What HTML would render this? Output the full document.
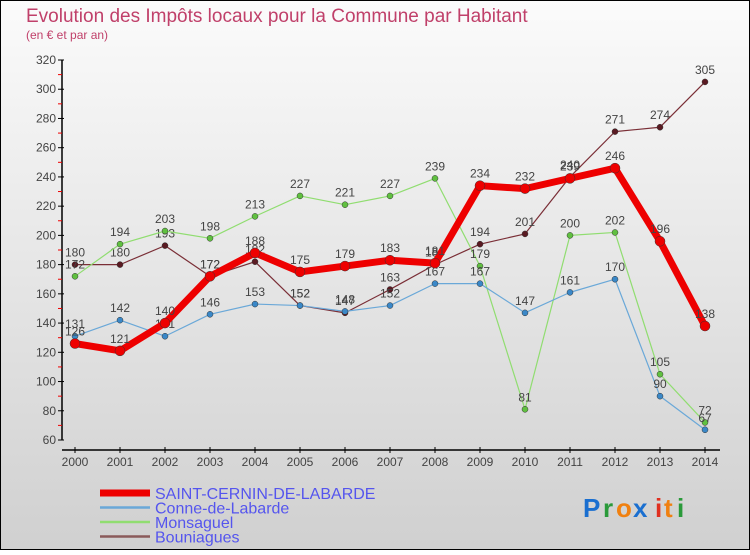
<!DOCTYPE html>
<html><head><meta charset="utf-8"><style>
body{margin:0;width:750px;height:550px;overflow:hidden;font-family:"Liberation Sans",sans-serif}
</style></head><body>
<svg id="c" width="750" height="550" xmlns="http://www.w3.org/2000/svg">
<defs><linearGradient id="bg" x1="0" y1="0" x2="0" y2="1"><stop offset="0" stop-color="#fbfbfb"/><stop offset="1" stop-color="#d0d0d0"/></linearGradient></defs>
<rect x="0.5" y="0.5" width="749" height="549" fill="url(#bg)" stroke="#000"/>
<text x="26" y="22" font-size="19" fill="#c0406a">Evolution des Impôts locaux pour la Commune par Habitant</text>
<text x="26" y="39" font-size="12" fill="#c0406a">(en € et par an)</text>
<g id="axes"></g><g id="series"></g><g id="legend"></g>
<g font-size="26" font-weight="bold">
<text x="583" y="517" fill="#1a6fd0">P</text><text x="603" y="517" fill="#2a9a3a">r</text><text x="616" y="517" fill="#f08010">o</text><text x="633" y="517" fill="#1a6fd0">x</text><text x="655" y="517" fill="#e03020">i</text><text x="664" y="517" fill="#f08010">t</text><text x="677" y="517" fill="#2a9a3a">i</text>
</g>
</svg>
<script>
const years=[2000,2001,2002,2003,2004,2005,2006,2007,2008,2009,2010,2011,2012,2013,2014];
const yTicks=[60,80,100,120,140,160,180,200,220,240,260,280,300,320];
const saintCernin=[126,121,140,172,188,175,179,183,181,234,232,239,246,196,138];
const conne=[131,142,131,146,153,152,148,152,167,167,147,161,170,90,67];
const monsaguel=[172,194,203,198,213,227,221,227,239,179,81,200,202,105,72];
const bouniagues=[180,180,193,172,182,152,147,163,180,194,201,240,271,274,305];
const names=["SAINT-CERNIN-DE-LABARDE","Conne-de-Labarde","Monsaguel","Bouniagues"];
const NS="http://www.w3.org/2000/svg";
const xs=i=>75+i*45, ys=v=>440-(v-60)*380/260;
function mk(t,a,p){const e=document.createElementNS(NS,t);for(const k in a)e.setAttribute(k,a[k]);p.appendChild(e);return e;}
const ax=document.getElementById('axes');
mk('line',{x1:62,y1:60,x2:62,y2:440,stroke:'#000','stroke-width':1.5},ax);
mk('line',{x1:62,y1:450,x2:720,y2:450,stroke:'#000','stroke-width':1.5},ax);
yTicks.forEach((v,i)=>{const y=ys(v);
 mk('line',{x1:58,y1:y,x2:64,y2:y,stroke:'#000'},ax);
 if(i<yTicks.length-1) mk('line',{x1:58,y1:ys(v+10),x2:62,y2:ys(v+10),stroke:'#e00'},ax);
 const t=mk('text',{x:56,y:y+4,'font-size':12,fill:'#444','text-anchor':'end'},ax);t.textContent=v;
 });
years.forEach((yr,i)=>{const x=xs(i);
 mk('line',{x1:x,y1:447,x2:x,y2:453,stroke:'#000'},ax);
 const t=mk('text',{x:x,y:466,'font-size':12,fill:'#444','text-anchor':'middle'},ax);t.textContent=yr;
 });
const sg=document.getElementById('series');
const defs=[[bouniagues,'#7a2e36','#5a1a22',1.2,names[3]],[monsaguel,'#90dd70','#60c040',1.2,names[2]],[conne,'#6aa8d8','#3a88c8',1.2,names[1]],[saintCernin,'#ee0000','#ee0000',7,names[0]]];
defs.forEach(([d,c,dc,w,n])=>{
 const g=mk('g',{},sg);
 mk('polyline',{points:d.map((v,i)=>xs(i)+','+ys(v)).join(' '),fill:'none',stroke:c,'stroke-width':w,'stroke-linejoin':'round'},g);
 d.forEach((v,i)=>{const p=mk('circle',{cx:xs(i),cy:ys(v),r:w>3?5:3,fill:dc,stroke:'#333','stroke-width':0.5},g);
  
  const t=mk('text',{x:xs(i),y:ys(v)-8,'font-size':12,fill:'#444','text-anchor':'middle'},g);t.textContent=v;
  });
});
const lg=document.getElementById('legend');
[['#ee0000',7],['#6aa8d8',2.5],['#90dd70',2.5],['#8a5a5a',2.5]].forEach(([c,w],i)=>{
 const y=493+i*14.5;
 const g=mk('g',{},lg);
 mk('line',{x1:100,y1:y,x2:150,y2:y,stroke:c,'stroke-width':w},g);
 const t=mk('text',{x:155,y:y+6,'font-size':16,fill:'#5555ee'},g);t.textContent=names[i];});
</script>
</body></html>
